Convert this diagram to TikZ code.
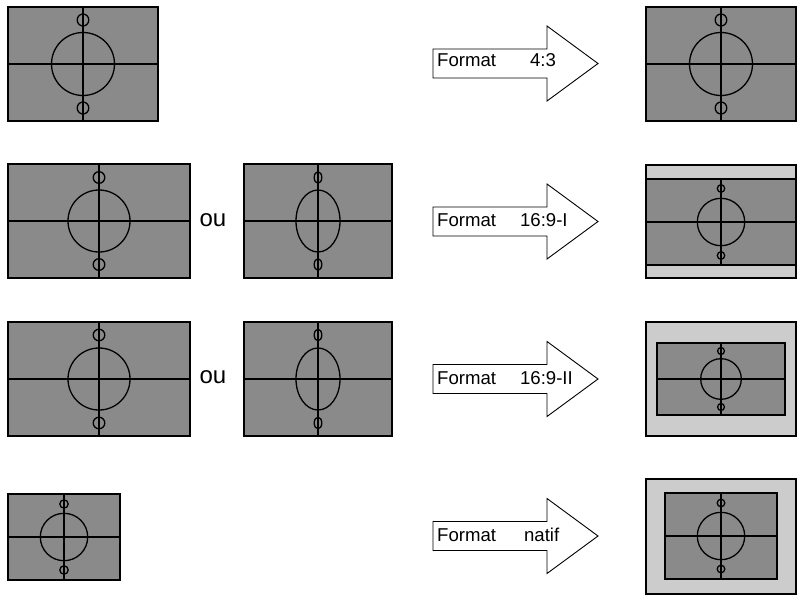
\documentclass[tikz,border=0pt]{standalone}
\usepackage{fontspec}
\setmainfont{Liberation Sans}
\usepackage{tikz}
\usetikzlibrary{calc}

\definecolor{grisfonce}{RGB}{138,138,138}
\definecolor{grisclair}{RGB}{204,204,204}

% un ecran : rectangle, croix, grand cercle et deux petits cercles
\newcommand{\ecran}[9]{%
\draw[ecran] (#1,#2) rectangle (#3,#4);
\draw[trait] ($(#1,#2)!0.5!(#1,#4)$) -- ($(#3,#2)!0.5!(#3,#4)$);
\draw[trait] ($(#1,#2)!0.5!(#3,#2)$) -- ($(#1,#4)!0.5!(#3,#4)$);
\coordinate (c) at ($(#1,#2)!0.5!(#3,#4)$);
\draw[trait] (c) ellipse [x radius=#5pt, y radius=#6pt];
\draw[trait] ($(c)+(0,-#7)$) ellipse [x radius=#8pt, y radius=#9pt];
\draw[trait] ($(c)+(0,#7)$) ellipse [x radius=#8pt, y radius=#9pt];
}

% la grosse fleche blanche
\newcommand{\fleche}[1]{%
\draw[fleche] (433,#1-14.5) -- (547,#1-14.5) -- (547,#1-37.5) -- (598,#1) -- (547,#1+37.5) -- (547,#1+14.5) -- (433,#1+14.5) -- cycle;
}

\begin{document}
\begin{tikzpicture}[x=1pt,y=-1pt,
	ecran/.style={draw=black,fill=grisfonce,line width=1.3pt},
	cadre/.style={draw=black,fill=grisclair,line width=1.3pt},
	trait/.style={black,line width=1.3pt},
	fleche/.style={draw=black,fill=white,line width=0.9pt},
	txt/.style={anchor=base west,inner sep=0pt,font=\fontsize{18.6}{20}\selectfont},
	ou/.style={anchor=base,inner sep=0pt,font=\fontsize{24}{26}\selectfont}]
\useasboundingbox (0,0) rectangle (798,598);

% 4:3
\ecran{8}{7}{158}{121}{31.5}{31.5}{44}{5.8}{6}
\fleche{63.5}
\node[txt] (F1) at (437,66.5) {Format\hspace{34pt}4:3};
\ecran{646}{7}{796}{121}{31.5}{31.5}{44}{5.8}{6}

% 16:9-I
\ecran{8}{164}{190}{278}{31}{31}{43.5}{5.8}{5.8}
\node[ou] (O1) at (213,226) {ou};
\ecran{244}{164}{392}{278}{22}{31}{43.5}{3.8}{5.8}
\fleche{221.5}
\node[txt] (F2) at (437,226) {Format\hspace{24pt}16:9-I};
\draw[cadre] (646,165) rectangle (796,278);
\ecran{646}{179}{796}{265}{23.7}{23.7}{33.5}{3.7}{3.8}

% 16:9-II
\ecran{8}{322}{190}{436}{31}{31}{44}{5.8}{5.8}
\node[ou] (O2) at (213,383) {ou};
\ecran{244}{322}{392}{436}{22}{31}{44}{3.8}{5.8}
\fleche{379}
\node[txt] (F3) at (437,384) {Format\hspace{24pt}16:9-II};
\draw[cadre] (646,322) rectangle (796,436);
\ecran{657}{343}{785}{415}{20.3}{20.3}{28}{3.4}{3.5}

% natif
\ecran{8}{494}{120}{580}{23.7}{23.7}{33}{4.2}{4.2}
\fleche{536}
\node[txt] (F4) at (437,541) {Format\hspace{28pt}natif};
\draw[cadre] (646,479) rectangle (796,594);
\ecran{665}{493}{777}{579}{23.7}{23.7}{33}{3.8}{3.8}

\end{tikzpicture}
\end{document}
